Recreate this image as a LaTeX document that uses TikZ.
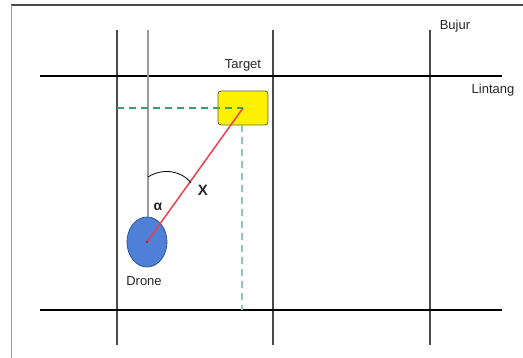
\documentclass[tikz,border=0pt]{standalone}
\usepackage{fontspec}
\setmainfont{Liberation Sans}
\usetikzlibrary{shapes.geometric}
\definecolor{gridgray}{HTML}{4A4A4A}
\definecolor{lightgray}{HTML}{9A9A9A}
\definecolor{dashgreen}{HTML}{3C9E6A}
\definecolor{dashteal}{HTML}{86C9AE}
\definecolor{droneblue}{HTML}{4D80D6}
\definecolor{droneedge}{HTML}{2F568F}
\definecolor{redline}{HTML}{F0404A}
\tikzset{
  vline/.style={draw=gridgray, line width=2.2pt},
  hline/.style={draw=black, line width=2.2pt},
  lbl/.style={font=\fontsize{13}{15}\selectfont, text=black!85, inner sep=0pt},
  dashline/.style={line width=1.8pt, dash pattern=on 7pt off 5pt},
}
\begin{document}
\begin{tikzpicture}[x=1pt,y=-1pt]
\useasboundingbox (0,0) rectangle (523,358);
\fill[white] (0,0) rectangle (523,358);
% frame
\draw[gridgray, line width=1.2pt] (11,5) -- (523,5);
\draw[lightgray, line width=1pt] (11,5) -- (11,358);
% grid lines
\draw[vline] (117,30) -- (117,345);
\draw[vline] (273,30) -- (273,345);
\draw[vline] (430,30) -- (430,345);
\draw[hline] (40,76) -- (502,76);
\draw[hline] (40,310) -- (502,310);
% nodes
\node[draw=droneedge, fill=droneblue, ellipse, minimum width=40pt, minimum height=50pt, inner sep=0pt, line width=0.8pt] (drone) at (147,242) {};
\draw[lightgray, line width=1.2pt] (148,30) -- (148,217);
\node[draw=black!70!yellow, fill=yellow, rounded corners=3pt, minimum width=50pt, minimum height=34pt, inner sep=0pt, line width=0.8pt] (target) at (243,108) {};
\coordinate (hstart) at (117,108);
\coordinate (vend) at (242,310);
\draw[dashline, dashgreen] (hstart) -- (target.center);
\draw[dashline, dashteal] (target.south -| vend) -- (vend);
\draw[redline, line width=1.5pt] (drone.center) -- (target.center);
\fill[redline!70!black] (drone.center) circle (1.5pt);
% angle arc
\coordinate (arcA) at (148,177);
\coordinate (arcB) at (191,183);
\draw[black, line width=0.8pt] (arcA) .. controls (162,168) and (181,170) .. (arcB);
% labels
\node[lbl] (ltarget) at (243,65) {Target};
\node[lbl] (lbujur) at (455,26) {Bujur};
\node[lbl] (llintang) at (493,90) {Lintang};
\node[lbl, font=\fontsize{15}{17}\selectfont\bfseries] (lx) at (203,190) {X};
\node[lbl, font=\fontsize{14}{16}\selectfont\bfseries] (lalpha) at (158,207) {α};
\node[lbl] (ldrone) at (144,281) {Drone};
\end{tikzpicture}
\end{document}
